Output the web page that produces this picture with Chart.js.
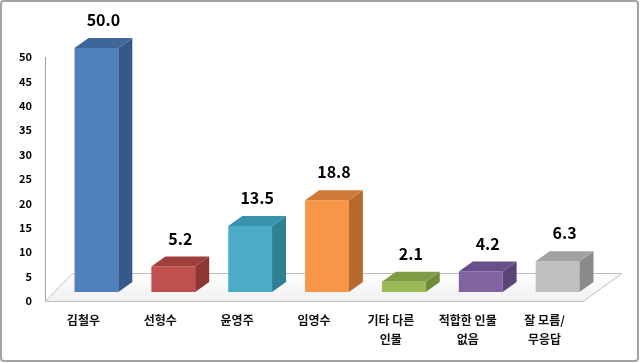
<!DOCTYPE html>
<html>
<head>
<meta charset="utf-8">
<script src="https://cdn.jsdelivr.net/npm/chart.js@4"></script>
<style>
  html, body { margin: 0; padding: 0; background: #fff; }
  #wrap { width: 640px; height: 363px; }
</style>
</head>
<body>
<div id="wrap"><canvas id="chart1" width="640" height="363"></canvas></div>
<script>
const categories = [['김철우'], ['선형수'], ['윤영주'], ['임영수'], ['기타 다른', '인물'], ['적합한 인물', '없음'], ['잘 모름/', '무응답']];
const shares = [50.0, 5.2, 13.5, 18.8, 2.1, 4.2, 6.3];
const yMax = 50;
const yStep = 5;

const frontColors = ['#4f81bd', '#c0504d', '#4bacc6', '#f79646', '#9bbb59', '#8064a2', '#bfbfbf'];
const sideColors = ['#37598a', '#8e3633', '#2f7f95', '#b8692d', '#6f8a3a', '#5a4578', '#8a8a8a'];
const topColors = ['#3e6699', '#9f3f3c', '#3894ad', '#cf7a38', '#7f9d45', '#684f89', '#a2a2a2'];

const FONT = '"Noto Sans CJK KR", "Noto Sans", sans-serif';
const SHIFT_X = 13, SHIFT_Y = -9;   // bar position inside the floor depth
const DEPTH_X = 14, DEPTH_Y = 10;   // bar depth

const frame = {
  id: 'frame',
  beforeDraw(chart) {
    const c = chart.ctx;
    c.save();
    c.fillStyle = '#fff';
    c.fillRect(0, 0, chart.width, chart.height);
    c.strokeStyle = '#a3a3a3';
    c.lineWidth = 2;
    c.beginPath();
    c.roundRect(1, 1, chart.width - 3, chart.height - 3, 3);
    c.stroke();
    c.restore();
  }
};

const floor3d = {
  id: 'floor3d',
  beforeDatasetsDraw(chart) {
    const c = chart.ctx, a = chart.chartArea;
    c.save();
    const g = c.createLinearGradient(0, a.bottom - 28, 0, a.bottom);
    g.addColorStop(0, '#ffffff');
    g.addColorStop(1, '#f0f0f0');
    c.fillStyle = g;
    c.strokeStyle = '#bdbdbd';
    c.lineWidth = 1;
    c.beginPath();
    c.moveTo(a.left, a.bottom + 0.5);
    c.lineTo(a.right, a.bottom + 0.5);
    c.lineTo(a.right + 39, a.bottom - 28 + 0.5);
    c.lineTo(a.left + 28, a.bottom - 28 + 0.5);
    c.closePath();
    c.fill();
    c.stroke();
    c.restore();
  },
  beforeDatasetDraw(chart) {
    chart.ctx.save();
    chart.ctx.translate(SHIFT_X, SHIFT_Y);
  },
  afterDatasetDraw(chart, args) {
    const c = chart.ctx;
    args.meta.data.forEach((bar, i) => {
      const l = bar.x - bar.width / 2, r = bar.x + bar.width / 2;
      c.fillStyle = sideColors[i];
      c.beginPath();
      c.moveTo(r, bar.y);
      c.lineTo(r + DEPTH_X, bar.y - DEPTH_Y);
      c.lineTo(r + DEPTH_X, bar.base - DEPTH_Y);
      c.lineTo(r, bar.base);
      c.closePath();
      c.fill();
      c.fillStyle = topColors[i];
      c.beginPath();
      c.moveTo(l, bar.y);
      c.lineTo(l + DEPTH_X, bar.y - DEPTH_Y);
      c.lineTo(r + DEPTH_X, bar.y - DEPTH_Y);
      c.lineTo(r, bar.y);
      c.closePath();
      c.fill();
      c.fillStyle = '#000';
      c.font = 'bold 16px ' + FONT;
      c.textAlign = 'center';
      c.textBaseline = 'middle';
      c.fillText(shares[i].toFixed(1), bar.x + DEPTH_X / 2, bar.y - DEPTH_Y - 18);
    });
    c.restore();
  }
};

const ctx = document.getElementById('chart1').getContext('2d');
const chart1 = new Chart(ctx, {
  type: 'bar',
  data: {
    labels: categories,
    datasets: [{
      data: shares,
      backgroundColor: frontColors,
      borderWidth: 0,
      barPercentage: 0.57,
      categoryPercentage: 1,
      clip: false
    }]
  },
  options: {
    responsive: false,
    animation: false,
    layout: { padding: { top: 57, right: 57, left: 0, bottom: 0 } },
    plugins: {
      legend: { display: false },
      tooltip: { enabled: false }
    },
    scales: {
      y: {
        min: 0,
        max: yMax,
        afterFit(scale) { scale.width = 45; },
        ticks: {
          stepSize: yStep,
          padding: 13,
          color: '#000',
          font: { family: FONT, size: 11, weight: 'bold' }
        },
        grid: { display: false, drawTicks: false },
        border: { display: true, color: '#a6a6a6', width: 1 }
      },
      x: {
        afterFit(scale) { scale.height = 62; },
        ticks: {
          padding: 10,
          color: '#111',
          maxRotation: 0,
          autoSkip: false,
          font: { family: FONT, size: 12, weight: 'bold', lineHeight: 1.6 }
        },
        grid: { display: false, drawTicks: false },
        border: { display: false }
      }
    }
  },
  plugins: [frame, floor3d]
});
</script>
</body>
</html>
